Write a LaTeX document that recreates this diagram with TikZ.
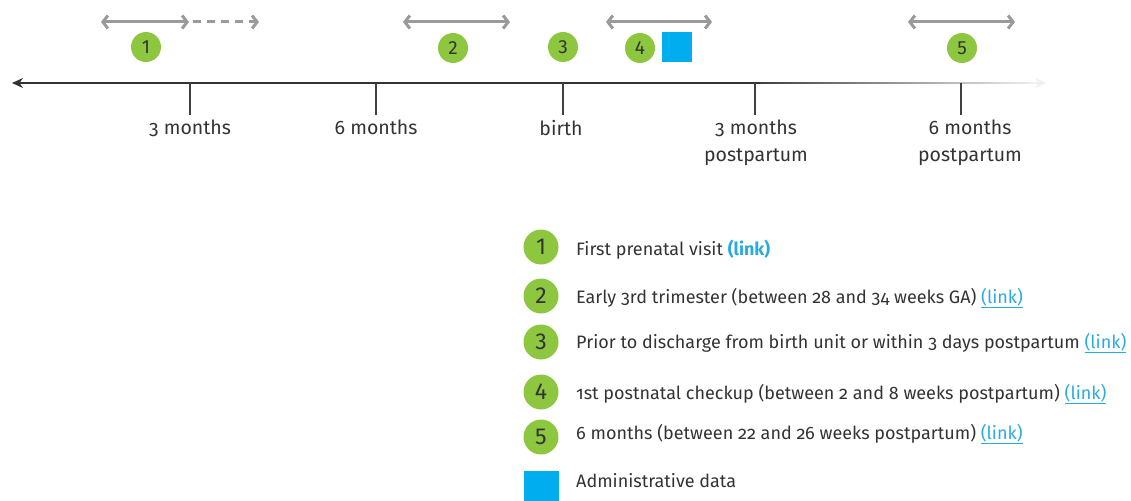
\documentclass[tikz,border=0pt]{standalone}
\usepackage{fontspec}
\setmainfont{Fira Sans}[Numbers=OldStyle]
\newfontfamily\numfont{Fira Sans}[Numbers=Lining]
\usetikzlibrary{arrows.meta}
\definecolor{dotgreen}{HTML}{8DC63F}
\definecolor{admblue}{HTML}{00AEEF}
\definecolor{linkblue}{HTML}{29ABE2}
\definecolor{txt}{HTML}{333333}
\definecolor{span}{HTML}{9A9A9A}
\tikzset{
  dot/.style={circle, fill=dotgreen, minimum size=30pt, inner sep=0pt,
    font=\numfont\fontsize{19}{19}\selectfont, text=txt},
  keydot/.style={dot, minimum size=35pt, font=\numfont\fontsize{23}{23}\selectfont},
  admbox/.style={fill=admblue, minimum width=#1, minimum height=#1, inner sep=0pt},
  admbox/.default=30pt,
  spanarrow/.style={draw=span, line width=3pt, {Straight Barb[length=5pt,width=13pt]}-{Straight Barb[length=5pt,width=13pt]}},
  tick/.style={draw=black!75, line width=1.3pt},
  lbl/.style={font=\fontsize{19.5}{27}\selectfont, text=txt, align=center, anchor=north, inner sep=0pt},
  legend/.style={font=\fontsize{18}{20}\selectfont, text=txt, anchor=west, inner sep=0pt},
}
\newcommand{\lnk}{\textcolor{linkblue}{\textbf{(link)}}}
\newcommand{\ulnk}{\textcolor{linkblue}{\underline{(link)}}}
\begin{document}
\begin{tikzpicture}[x=1pt, y=-1pt]
\useasboundingbox (0,0) rectangle (1131,500);

% timeline axis, fading out to the right
\coordinate (axL) at (12,83);
\coordinate (axM) at (760,83);
\coordinate (axR) at (1046,83);
\shade[left color=black!75, right color=black!6] (760,82.3) rectangle (1036,83.7);
\draw[black!80, line width=1.4pt, -{Stealth[length=11pt,width=10pt]}] (axM) -- (axL);
\draw[black!6, line width=1.4pt, -{Stealth[length=11pt,width=10pt]}] (1030,83) -- (axR);

% ticks and their labels
\foreach \n/\x in {t1/190, t2/376, t3/563, t4/755, t5/961} {
  \coordinate (\n top) at (\x,83);
  \coordinate (\n bot) at (\x,115);
  \draw[tick] (\n top) -- (\n bot);
}
\node[lbl] (l1) at (190,120) {3 months};
\node[lbl] (l2) at (376,120) {6 months};
\node[lbl] (l3) at (561,120) {birth};
\node[lbl] (l4) at (756,120) {3 months\\postpartum};
\node[lbl] (l5) at (970,120) {6 months\\postpartum};

% windows of each visit
\coordinate (a1s) at (101,22); \coordinate (a1e) at (189,22); \coordinate (a1d) at (259,22);
\draw[spanarrow] (a1s) -- (a1e);
\draw[draw=span, line width=3pt, dash pattern=on 8pt off 6pt, -{Straight Barb[length=5pt,width=13pt]}] (a1e) ++(4,0) -- (a1d);
\coordinate (a2s) at (403,22); \coordinate (a2e) at (510,22);
\draw[spanarrow] (a2s) -- (a2e);
\coordinate (a4s) at (606,22); \coordinate (a4e) at (712,22);
\draw[spanarrow] (a4s) -- (a4e);
\coordinate (a5s) at (908,22); \coordinate (a5e) at (1015,22);
\draw[spanarrow] (a5s) -- (a5e);

% visit markers
\node[dot] (c1) at (146,47) {1};
\node[dot] (c2) at (453,48) {2};
\node[dot] (c3) at (563,47) {3};
\node[dot] (c4) at (640,48) {4};
\node[admbox] (adm) at (677,47) {};
\node[dot] (c5) at (962,48) {5};

% legend
\node[keydot] (k1) at (541,247) {1};
\node[keydot] (k2) at (541,296) {2};
\node[keydot] (k3) at (541,342) {3};
\node[keydot] (k4) at (541,392) {4};
\node[keydot] (k5) at (541,437) {5};
\node[admbox=35pt] (kadm) at (541,488) {};
\node[legend] (e1) at (576,250) {First prenatal visit \lnk};
\node[legend] (e2) at (576,298) {Early 3rd trimester (between 28 and 34 weeks GA) \ulnk};
\node[legend] (e3) at (576,343) {Prior to discharge from birth unit or within 3 days postpartum \ulnk};
\node[legend] (e4) at (576,394) {1st postnatal checkup (between 2 and 8 weeks postpartum) \ulnk};
\node[legend] (e5) at (576,434) {6 months (between 22 and 26 weeks postpartum) \ulnk};
\node[legend] (e6) at (576,481) {Administrative data};
\end{tikzpicture}
\end{document}
